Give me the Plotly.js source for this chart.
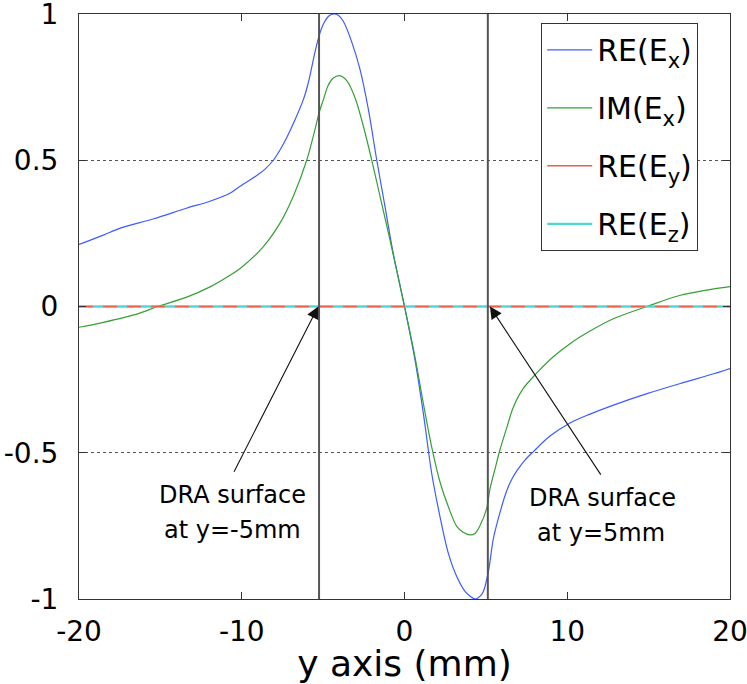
<!DOCTYPE html>
<html>
<head>
<meta charset="utf-8">
<script src="https://cdn.plot.ly/plotly-3.0.1.min.js"></script>
<style>html,body{margin:0;padding:0;background:#fff;}#chart{width:747px;height:684px;}</style>
</head>
<body>
<div id="chart"></div>
<script>
// ---- data ----
const reExX = [-20, -18.5, -17.5, -15.4, -13.4, -12.0, -10.7, -10.1, -9.08, -8.6, -8.06, -7.65, -7.24, -6.72, -6.21, -5.91, -5.5, -5.25, -4.99, -4.65, -4.35, -4.05, -3.76, -3.24, -2.73, -2.22, -1.71, -1.2, -0.69, 0, 0.65, 1.16, 1.67, 2.18, 2.69, 3.21, 3.72, 4.02, 4.35, 4.65, 4.84, 5.15, 5.46, 5.87, 6.28, 6.6, 6.9, 7.4, 7.92, 8.94, 10.17, 11.4, 12.8, 14.9, 16.9, 19.0, 20];
const reExY = [0.212, 0.244, 0.267, 0.300, 0.336, 0.359, 0.388, 0.411, 0.448, 0.468, 0.500, 0.535, 0.577, 0.639, 0.708, 0.765, 0.870, 0.925, 0.965, 0.993, 1.000, 0.995, 0.975, 0.904, 0.810, 0.674, 0.502, 0.342, 0.181, 0, -0.184, -0.366, -0.570, -0.718, -0.843, -0.923, -0.974, -0.990, -1.000, -0.990, -0.975, -0.907, -0.794, -0.704, -0.630, -0.590, -0.562, -0.525, -0.496, -0.443, -0.398, -0.368, -0.338, -0.298, -0.264, -0.230, -0.212];

const imExX = [-20, -18.5, -16.4, -15.17, -13.38, -11.95, -10.72, -10.1, -8.67, -7.65, -6.83, -6.01, -5.5, -5.25, -4.98, -4.7, -4.37, -4.0, -3.55, -3.04, -2.53, -2.02, -1.5, -0.89, 0, 0.645, 1.16, 1.67, 2.18, 2.69, 3.21, 3.6, 4.02, 4.35, 4.64, 5.05, 5.25, 5.56, 5.87, 6.28, 6.68, 7.30, 8.12, 9.14, 10.17, 11.4, 12.83, 14.9, 16.9, 19.0, 20];
const imExY = [-0.071, -0.054, -0.025, 0, 0.032, 0.067, 0.107, 0.130, 0.205, 0.285, 0.377, 0.500, 0.605, 0.662, 0.708, 0.755, 0.781, 0.789, 0.772, 0.714, 0.617, 0.502, 0.376, 0.227, 0, -0.173, -0.332, -0.480, -0.600, -0.684, -0.752, -0.772, -0.781, -0.775, -0.749, -0.690, -0.624, -0.556, -0.489, -0.415, -0.345, -0.280, -0.228, -0.172, -0.127, -0.084, -0.042, 0, 0.0375, 0.060, 0.068];

const reEyX = [-20, 20];
const reEyY = [0, 0];
const reEzX = [-20, 20];
const reEzY = [0, 0];

const seriesNames = ['RE(E<sub>x</sub>)', 'IM(E<sub>x</sub>)', 'RE(E<sub>y</sub>)', 'RE(E<sub>z</sub>)'];
const surfaceX = [-5.25, 5.12];
const surfaceLabels = ['DRA surface', 'at y=-5mm', 'DRA surface', 'at y=5mm'];

const xTickVals = [-20, -10, 0, 10, 20];
const xTickText = ['-20', '-10', '0', '10', '20'];
const yTickVals = [-1, -0.5, 0, 0.5, 1];
const yTickText = ['-1', '-0.5', '0', '0.5', '1'];
const xTitle = 'y axis (mm)';

// ---- styles ----
const FONT = 'DejaVu Sans, Liberation Sans, Arial, sans-serif';
const cBlue = '#3d5cff', cGreen = '#35a035', cRed = '#e8624a', cCyan = '#4cd6d6';
const lineSpline = {shape: 'spline', smoothing: 0.9};

const traces = [
  {x: reExX, y: reExY, name: seriesNames[0], legendgroup: 'a', mode: 'lines', line: Object.assign({color: cBlue, width: 1.2}, lineSpline)},
  {x: imExX, y: imExY, name: seriesNames[1], legendgroup: 'b', mode: 'lines', line: Object.assign({color: cGreen, width: 1.2}, lineSpline)},
  {x: reEyX, y: reEyY, name: seriesNames[2], legendgroup: 'c', mode: 'lines', line: {color: cRed, width: 1.5}},
  {x: reEzX, y: reEzY, name: seriesNames[3], legendgroup: 'd', mode: 'lines', line: {color: cCyan, width: 2.2}},
  {x: reEyX, y: reEyY, name: seriesNames[2], legendgroup: 'c', showlegend: false, mode: 'lines', line: {color: cRed, width: 1.5, dash: '14px,10px'}, hoverinfo: 'skip'}
];

const shapes = surfaceX.map(v => ({type: 'line', xref: 'x', yref: 'paper', x0: v, x1: v, y0: 0, y1: 1, line: {color: '#555', width: 2}, layer: 'above'}));

const annFont = {family: FONT, size: 24, color: '#000'};
const arrowStyle = {showarrow: true, arrowhead: 2, arrowsize: 2.2, arrowwidth: 1.1, arrowcolor: '#111', standoff: 0};
const annotations = [
  Object.assign({x: surfaceX[0] - 0.05, y: 0, ax: -10.52, ay: -0.57, xref: 'x', yref: 'y', axref: 'x', ayref: 'y', text: ''}, arrowStyle),
  Object.assign({x: surfaceX[1] + 0.13, y: 0, ax: 12.12, ay: -0.58, xref: 'x', yref: 'y', axref: 'x', ayref: 'y', text: ''}, arrowStyle),
  {x: -10.54, y: -0.644, xref: 'x', yref: 'y', text: surfaceLabels[0], showarrow: false, font: annFont},
  {x: -10.54, y: -0.764, xref: 'x', yref: 'y', text: surfaceLabels[1], showarrow: false, font: annFont},
  {x: 12.17, y: -0.655, xref: 'x', yref: 'y', text: surfaceLabels[2], showarrow: false, font: annFont},
  {x: 12.07, y: -0.774, xref: 'x', yref: 'y', text: surfaceLabels[3], showarrow: false, font: annFont}
];

const layout = {
  width: 747, height: 684,
  margin: {l: 79, r: 17, t: 14, b: 85},
  paper_bgcolor: '#fff', plot_bgcolor: '#fff',
  font: {family: FONT, color: '#000', size: 28},
  showlegend: true,
  legend: {x: 0.71, y: 0.985, xanchor: 'left', yanchor: 'top', bgcolor: '#fff', bordercolor: '#333', borderwidth: 1,
           font: {family: FONT, size: 30, color: '#000'}, tracegroupgap: 16, itemwidth: 45},
  xaxis: {range: [-20, 20], tickmode: 'array', tickvals: xTickVals, ticktext: xTickText, ticks: 'inside', ticklen: 7,
          tickcolor: '#333', showline: true, linecolor: '#333', linewidth: 1, mirror: 'ticks', showgrid: false, zeroline: false,
          tickfont: {family: FONT, size: 28}, ticklabelstandoff: 7, ticklabeloverflow: 'allow',
          title: {text: xTitle, font: {family: FONT, size: 36}}, automargin: false},
  yaxis: {range: [-1, 1], tickmode: 'array', tickvals: yTickVals, ticktext: yTickText, ticks: 'inside', ticklen: 7,
          tickcolor: '#333', showline: true, linecolor: '#333', linewidth: 1, mirror: 'ticks', showgrid: true,
          gridcolor: '#555', griddash: 'dot', gridwidth: 1, zeroline: false,
          tickfont: {family: FONT, size: 28}, ticklabelstandoff: 14, ticklabeloverflow: 'allow', automargin: false},
  shapes: shapes,
  annotations: annotations
};

Plotly.newPlot('chart', traces, layout, {staticPlot: true, displayModeBar: false});
</script>
</body>
</html>
